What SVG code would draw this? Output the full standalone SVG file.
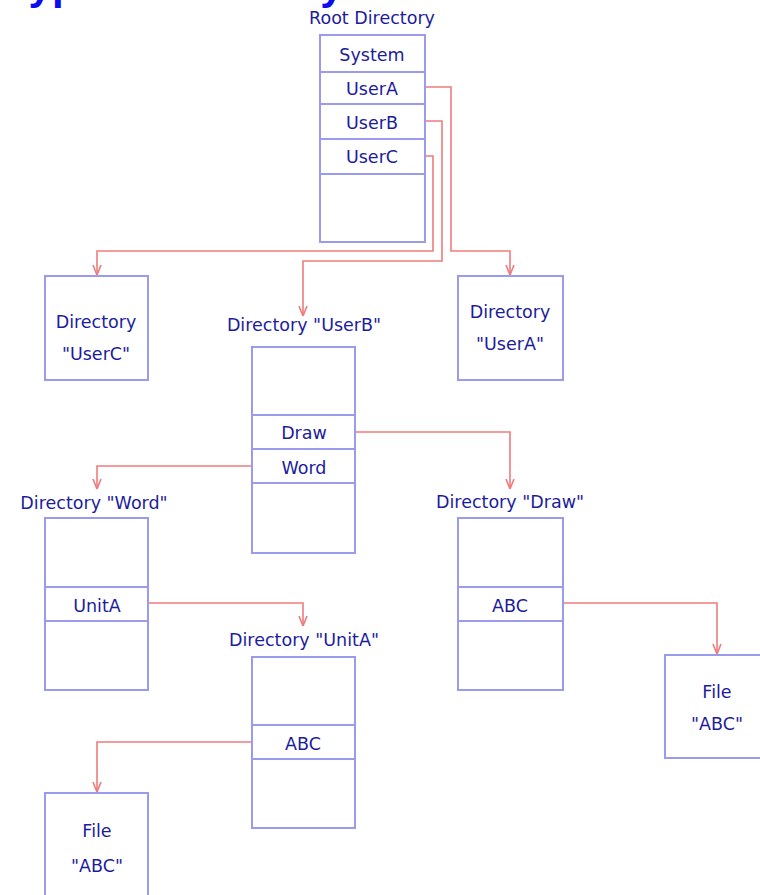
<svg xmlns="http://www.w3.org/2000/svg" width="760" height="895" viewBox="0 0 760 895">
<style>
.box{fill:#ffffff;stroke:#9a9aee;stroke-width:2}
.row{stroke:#9a9aee;stroke-width:2}
.t{font-family:"DejaVu Sans","Liberation Sans",sans-serif;font-size:17.5px;fill:#1c1c9c;text-anchor:middle}
.c{fill:none;stroke:#ee7c7c;stroke-width:1.6}
.title{font-family:"Liberation Sans",Arial,sans-serif;font-size:42px;font-weight:bold;fill:#0c0cee}
</style>
<defs>
<marker id="v" viewBox="0 0 10 10" refX="10" refY="5" markerWidth="10" markerHeight="10" markerUnits="userSpaceOnUse" orient="auto">
<path d="M0,1 L10,5 L0,9" fill="none" stroke="#ee7c7c" stroke-width="1.6"/>
</marker>
</defs>
<rect width="760" height="895" fill="#ffffff"/>
<text class="title" x="6" y="-1">Typical Directory Structure</text>

<g id="connectors">
<path class="c" d="M425,87 H451 V251 H510 V275" marker-end="url(#v)"/>
<path class="c" d="M425,121 H442 V261 H303 V316" marker-end="url(#v)"/>
<path class="c" d="M425,156 H433 V251 H97 V275" marker-end="url(#v)"/>
<path class="c" d="M348,432 H510 V489" marker-end="url(#v)"/>
<path class="c" d="M260,466 H97 V489" marker-end="url(#v)"/>
<path class="c" d="M140,603 H303 V626" marker-end="url(#v)"/>
<path class="c" d="M553,603 H717 V654" marker-end="url(#v)"/>
<path class="c" d="M260,742 H97 V792" marker-end="url(#v)"/>
</g>

<g id="root">
<text class="t" x="372" y="24">Root Directory</text>
<rect class="box" x="320" y="35" width="105" height="207"/>
<line class="row" x1="320" y1="72" x2="425" y2="72"/>
<line class="row" x1="320" y1="104" x2="425" y2="104"/>
<line class="row" x1="320" y1="139" x2="425" y2="139"/>
<line class="row" x1="320" y1="174" x2="425" y2="174"/>
<text class="t" x="372" y="61">System</text>
<text class="t" x="372" y="95">UserA</text>
<text class="t" x="372" y="129">UserB</text>
<text class="t" x="372" y="163">UserC</text>
</g>

<g id="dirUserC">
<rect class="box" x="45" y="276" width="103" height="104"/>
<text class="t" x="96" y="328">Directory</text>
<text class="t" x="96" y="360">"UserC"</text>
</g>

<g id="dirUserA">
<rect class="box" x="458" y="276" width="105" height="104"/>
<text class="t" x="510" y="318">Directory</text>
<text class="t" x="510" y="350">"UserA"</text>
</g>

<g id="dirUserB">
<text class="t" x="304" y="331">Directory "UserB"</text>
<rect class="box" x="252" y="347" width="103" height="206"/>
<line class="row" x1="252" y1="415" x2="355" y2="415"/>
<line class="row" x1="252" y1="449" x2="355" y2="449"/>
<line class="row" x1="252" y1="483" x2="355" y2="483"/>
<text class="t" x="304" y="439">Draw</text>
<text class="t" x="304" y="474">Word</text>
</g>

<g id="dirWord">
<text class="t" x="94" y="509">Directory "Word"</text>
<rect class="box" x="45" y="518" width="103" height="172"/>
<line class="row" x1="45" y1="587" x2="148" y2="587"/>
<line class="row" x1="45" y1="621" x2="148" y2="621"/>
<text class="t" x="97" y="612">UnitA</text>
</g>

<g id="dirDraw">
<text class="t" x="510" y="508">Directory "Draw"</text>
<rect class="box" x="458" y="518" width="105" height="172"/>
<line class="row" x1="458" y1="587" x2="563" y2="587"/>
<line class="row" x1="458" y1="621" x2="563" y2="621"/>
<text class="t" x="510" y="612">ABC</text>
</g>

<g id="dirUnitA">
<text class="t" x="304" y="646">Directory "UnitA"</text>
<rect class="box" x="252" y="657" width="103" height="171"/>
<line class="row" x1="252" y1="725" x2="355" y2="725"/>
<line class="row" x1="252" y1="759" x2="355" y2="759"/>
<text class="t" x="303" y="750">ABC</text>
</g>

<g id="fileABCright">
<rect class="box" x="665" y="655" width="103" height="103"/>
<text class="t" x="717" y="698">File</text>
<text class="t" x="717" y="730">"ABC"</text>
</g>

<g id="fileABCbottom">
<rect class="box" x="45" y="793" width="103" height="104"/>
<text class="t" x="97" y="837">File</text>
<text class="t" x="97" y="872">"ABC"</text>
</g>
</svg>
